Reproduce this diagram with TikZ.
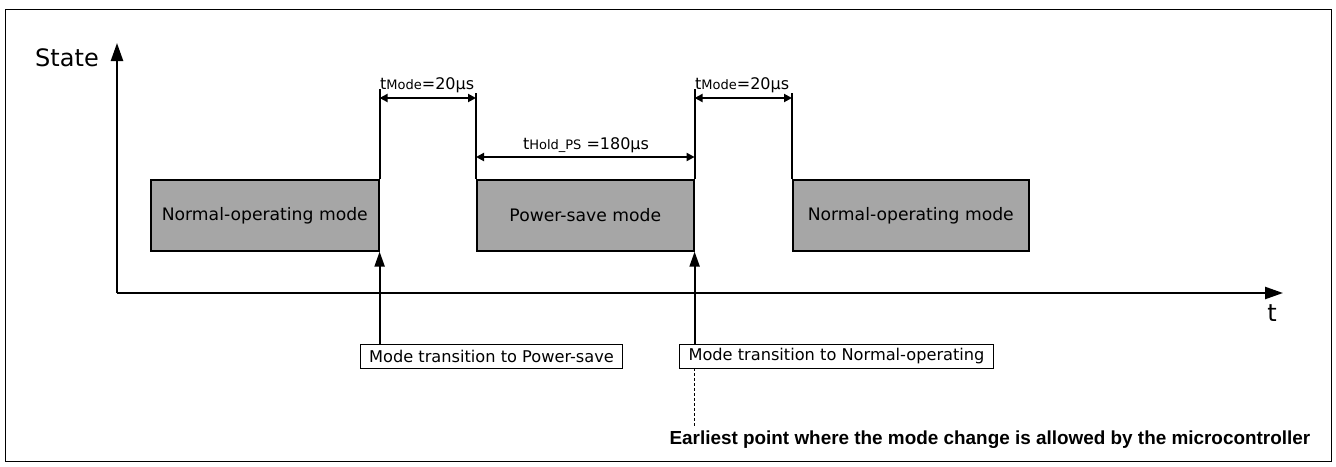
\documentclass[tikz,border=0pt]{standalone}
\usepackage{fontspec}
\setmainfont{DejaVu Sans}
\newfontfamily\arialfont{Liberation Sans}
\usepackage{tikz}
\usetikzlibrary{
    arrows.meta,
    positioning,
    calc
}
\definecolor{ModeGray}{RGB}{166,166,166}
\newcommand\smalltxt[1]{{\fontsize{13}{15}\selectfont #1}}

\begin{document}
\begin{tikzpicture}[
    x=1pt, y=-1pt,
    modebox/.style  = {draw, line width=1.6pt, fill=ModeGray,
                       anchor=north west, inner sep=0pt,
                       minimum height=71pt,
                       font=\fontsize{17.2}{20}\selectfont},
    labelbox/.style = {draw, line width=0.8pt, inner xsep=9pt,
                       minimum height=24pt,
                       font=\fontsize{16.2}{19}\selectfont},
    dimlabel/.style = {inner sep=1pt, font=\fontsize{16}{18}\selectfont},
    axis/.style     = {-{Triangle[length=18pt,width=12pt]}, line width=2.4pt},
    edge/.style     = {line width=1.8pt},
    dim/.style      = {{Triangle[length=8pt,width=8pt]}-{Triangle[length=8pt,width=8pt]},
                       line width=2.2pt},
    trig/.style     = {-{Triangle[length=15pt,width=10pt]}, line width=2pt},
    note/.style     = {line width=1.5pt, dash pattern=on 3pt off 2pt},
  ]

  \useasboundingbox (0,0) rectangle (1336,466);
  \draw[line width=0.8pt] (5,9) rectangle (1331,461);

  % axes
  \coordinate (origin) at (117,293);
  \coordinate (ytop)   at (117,43);
  \coordinate (xend)   at (1283,293);
  \draw[axis] (origin) -- (ytop);
  \draw[axis] (origin) -- (xend);
  \node[font=\fontsize{24}{28}\selectfont] (state) at (67,58) {State};
  \node[font=\fontsize{24}{28}\selectfont] (tlab)  at (1272,313) {t};

  % modes
  \node[modebox, minimum width=228pt] (norm1) at (150,179) {Normal-operating mode};
  \node[modebox, minimum width=217pt] (psave) at (476,179) {Power-save mode};
  \node[modebox, minimum width=236pt] (norm2) at (792,179) {Normal-operating mode};

  \draw[edge] (norm1.north east) -- ++(0,-90) coordinate (e1);
  \draw[edge] (psave.north west) -- ++(0,-86) coordinate (e2);
  \draw[edge] (psave.north east) -- ++(0,-90) coordinate (e3);
  \draw[edge] (norm2.north west) -- ++(0,-86) coordinate (e4);

  % timings
  \coordinate (moderow) at (0,98);
  \coordinate (holdrow) at (0,157);
  \draw[dim] (e1 |- moderow) -- (e2 |- moderow);
  \draw[dim] (e3 |- moderow) -- (e4 |- moderow);
  \draw[dim] (e2 |- holdrow) -- (e3 |- holdrow);
  \node[dimlabel, anchor=west] (tmode1) at (379,85) {t\smalltxt{Mode}=20μs};
  \node[dimlabel, anchor=west] (tmode2) at (694,85) {t\smalltxt{Mode}=20μs};
  \node[dimlabel] (thold) at (586,145) {t\smalltxt{Hold\_PS} =180μs};

  % transitions
  \node[labelbox] (lab1) at (491.5,356) {Mode transition to Power-save};
  \node[labelbox] (lab2) at (836.5,356) {Mode transition to Normal-operating};
  \node[anchor=west, font=\arialfont\bfseries\fontsize{18.9}{22}\selectfont]
       (early) at (666,440) {Earliest point where the mode change is allowed by the microcontroller};

  \draw[trig] (norm1.south east |- lab1.north) -- (norm1.south east);
  \draw[trig] (psave.south east |- lab2.north) -- (psave.south east);
  \draw[note] (psave.south east |- lab2.south) -- (psave.south east |- early.north);

\end{tikzpicture}
\end{document}
